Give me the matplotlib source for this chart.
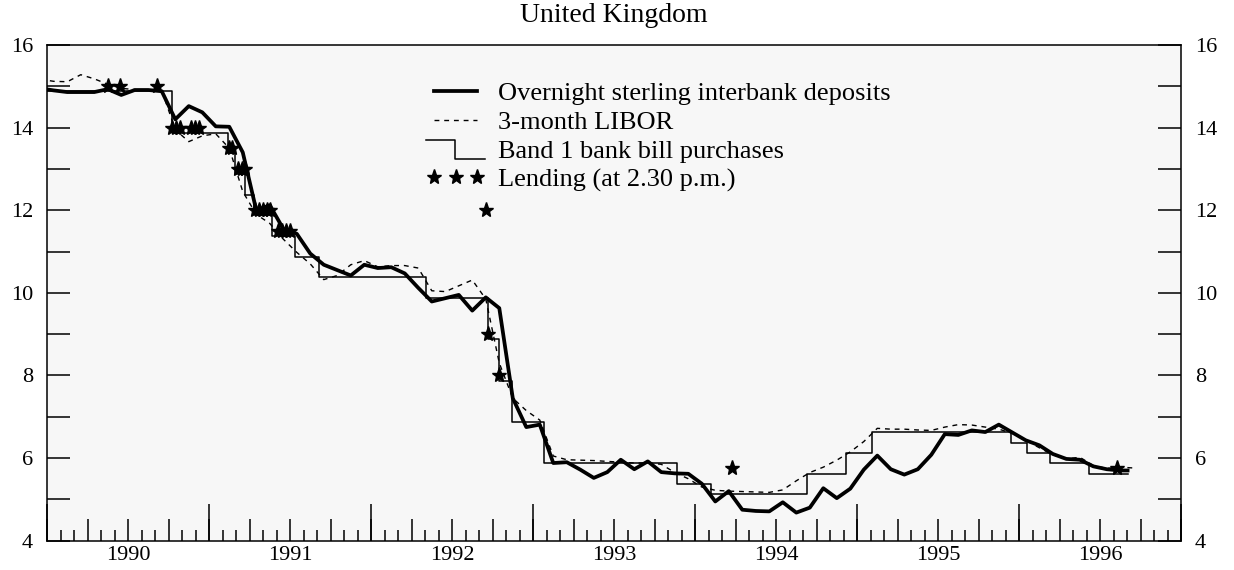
import matplotlib
matplotlib.use("Agg")
import matplotlib.pyplot as plt
from matplotlib.lines import Line2D
from matplotlib.legend_handler import HandlerBase
from matplotlib.ticker import MultipleLocator
import numpy as np

plt.rcParams["font.family"] = ["Liberation Serif", "DejaVu Serif"]

# ---------- data (percent) ----------
# monthly points, plotted mid-month, first one is Dec 1989 (clipped by the axis)
overnight = [14.95, 14.90, 14.86, 14.86, 14.86, 14.93, 14.79, 14.91, 14.91, 14.88,
             14.20, 14.52, 14.37, 14.03, 14.02, 13.40, 12.00, 12.12, 11.55, 11.43,
             10.95, 10.68, 10.55, 10.42, 10.68, 10.60, 10.62, 10.47, 10.12, 9.79,
             9.87, 9.95, 9.57, 9.89, 9.63, 7.45, 6.75, 6.81, 5.88, 5.90,
             5.72, 5.52, 5.66, 5.96, 5.73, 5.92, 5.66, 5.63, 5.62, 5.38,
             4.95, 5.20, 4.75, 4.72, 4.71, 4.93, 4.68, 4.80, 5.27, 5.03,
             5.26, 5.72, 6.06, 5.73, 5.60, 5.73, 6.08, 6.58, 6.56, 6.67,
             6.63, 6.81, 6.62, 6.43, 6.31, 6.10, 5.98, 5.96, 5.80, 5.73,
             5.70]
overnight_last = (1996.67, 5.70)

libor = [15.17, 15.12, 15.11, 15.28, 15.18, 15.05, 14.95, 14.92, 14.90, 14.90,
         13.95, 13.66, 13.80, 13.85, 13.50, 12.45, 11.90, 11.68, 11.30, 10.98,
         10.70, 10.32, 10.42, 10.68, 10.78, 10.63, 10.66, 10.66, 10.60, 10.05,
         10.03, 10.17, 10.31, 9.85, 8.30, 7.45, 7.15, 6.92, 6.05, 5.96,
         5.95, 5.94, 5.92, 5.90, 5.88, 5.88, 5.85, 5.65, 5.50, 5.30,
         5.22, 5.20, 5.19, 5.18, 5.17, 5.23, 5.45, 5.65, 5.78, 5.95,
         6.15, 6.40, 6.72, 6.70, 6.70, 6.68, 6.67, 6.75, 6.81, 6.80,
         6.75, 6.70, 6.60, 6.43, 6.25, 6.08, 5.98, 6.02, 5.82, 5.75,
         5.78, 5.76]

band1_dates = [1990.00, 1990.77, 1991.12, 1991.16, 1991.22, 1991.28, 1991.39, 1991.53,
               1991.68, 1992.34, 1992.72, 1992.79, 1992.87, 1993.07, 1993.89, 1994.10,
               1994.69, 1994.93, 1995.09, 1995.95, 1996.05, 1996.19, 1996.43, 1996.675]
band1_rates = [14.875, 13.875, 13.375, 12.875, 12.375, 11.875, 11.375, 10.875,
               10.375, 9.875, 8.875, 7.875, 6.875, 5.875, 5.375, 5.125,
               5.625, 6.125, 6.625, 6.375, 6.125, 5.875, 5.625, 5.625]

lending_dates = [1990.378, 1990.451, 1990.677,
                 1990.772, 1990.796, 1990.821, 1990.889, 1990.914, 1990.938,
                 1991.123, 1991.142,
                 1991.179, 1991.204, 1991.222,
                 1991.284, 1991.309, 1991.333, 1991.358, 1991.377,
                 1991.426, 1991.451, 1991.475, 1991.500,
                 1992.710, 1992.722, 1992.790, 1994.227, 1996.607]
lending_rates = [15.0, 15.0, 15.0,
                 14.0, 14.0, 14.0, 14.0, 14.0, 14.0,
                 13.5, 13.5,
                 13.0, 13.0, 13.0,
                 12.0, 12.0, 12.0, 12.0, 12.0,
                 11.5, 11.5, 11.5, 11.5,
                 12.0, 9.0, 8.0, 5.75, 5.75]

years = [1990, 1991, 1992, 1993, 1994, 1995, 1996]
labels = ["Overnight sterling interbank deposits", "3-month LIBOR",
          "Band 1 bank bill purchases", "Lending (at 2.30 p.m.)"]

t_on = list(1990 + (np.arange(len(overnight)) - 0.5) / 12) + [overnight_last[0]]
v_on = overnight + [overnight_last[1]]
t_lib = 1990 + (np.arange(len(libor)) - 0.5) / 12

DASH = (0, (3.5, 3.5))


class StepHandler(HandlerBase):
    def create_artists(self, legend, orig_handle, xdescent, ydescent,
                       width, height, fontsize, trans):
        x0 = -xdescent
        xm = x0 + 0.49 * width
        hi = -ydescent + 0.95 * height
        lo = -ydescent - 0.05 * height
        ln = Line2D([x0, xm, xm, x0 + width], [hi, hi, lo, lo], color="black", lw=1.1)
        ln.set_transform(trans)
        return [ln]


fig = plt.figure(figsize=(12.34, 5.70), dpi=100)
ax = fig.add_axes([0.0381, 0.0514, 0.9190, 0.8697])
ax.set_facecolor("#f7f7f7")

ax.plot(band1_dates, band1_rates, drawstyle="steps-post", color="black", lw=1.1, zorder=2)
ax.plot(t_lib, libor, color="black", lw=1.0, ls=DASH, zorder=3)
ax.plot(t_on, v_on, color="black", lw=2.7, zorder=4)
ax.plot(lending_dates, lending_rates, ls="none", marker="*", ms=11, color="black", zorder=5)

ax.set_xlim(1990, 1997)
ax.set_ylim(4, 16)
for s in ax.spines.values():
    s.set_linewidth(1.1)

# y axis: labels on both sides, ticks inside
ax.yaxis.set_major_locator(MultipleLocator(2))
ax.yaxis.set_minor_locator(MultipleLocator(1))
ax.tick_params(axis="y", which="both", direction="in", length=16.5, width=1.1,
               left=True, right=True, labelleft=True, labelright=True,
               labelsize=16, pad=10)

# x axis: quarter ticks (major), month ticks (minor), year ticks on a secondary axis
ax.set_xticks(np.arange(1990, 1997.01, 0.25))
ax.xaxis.set_minor_locator(MultipleLocator(1 / 12))
ax.tick_params(axis="x", which="major", direction="in", length=16, width=1.1,
               labelbottom=False, top=False)
ax.tick_params(axis="x", which="minor", direction="in", length=8, width=1.1, top=False)

sec = ax.secondary_xaxis("bottom")
sec.set_xticks(years + [1997])
sec.tick_params(direction="in", length=27, width=1.1, labelbottom=False)
sec.spines["bottom"].set_visible(False)

lab = ax.secondary_xaxis("bottom")
lab.set_xticks([y + 0.5 for y in years], [str(y) for y in years])
lab.tick_params(length=0, labelsize=16, pad=4)
lab.spines["bottom"].set_visible(False)

step_handle = Line2D([], [], color="black")
handles = [Line2D([], [], color="black", lw=2.7),
           Line2D([], [], color="black", lw=1.0, ls=DASH),
           step_handle,
           Line2D([], [], ls="none", marker="*", ms=11, color="black")]
ax.legend(handles, labels, loc="upper left", bbox_to_anchor=(0.3342, 0.926),
          frameon=False, fontsize=19, handlelength=2.24, handletextpad=0.49,
          labelspacing=0.2, numpoints=3, borderaxespad=0, borderpad=0,
          handler_map={step_handle: StepHandler()})

fig.text(0.4976, 1 - 15 / 570, "United Kingdom", ha="center", va="center", fontsize=20)

fig.savefig("out.png", dpi=100)
